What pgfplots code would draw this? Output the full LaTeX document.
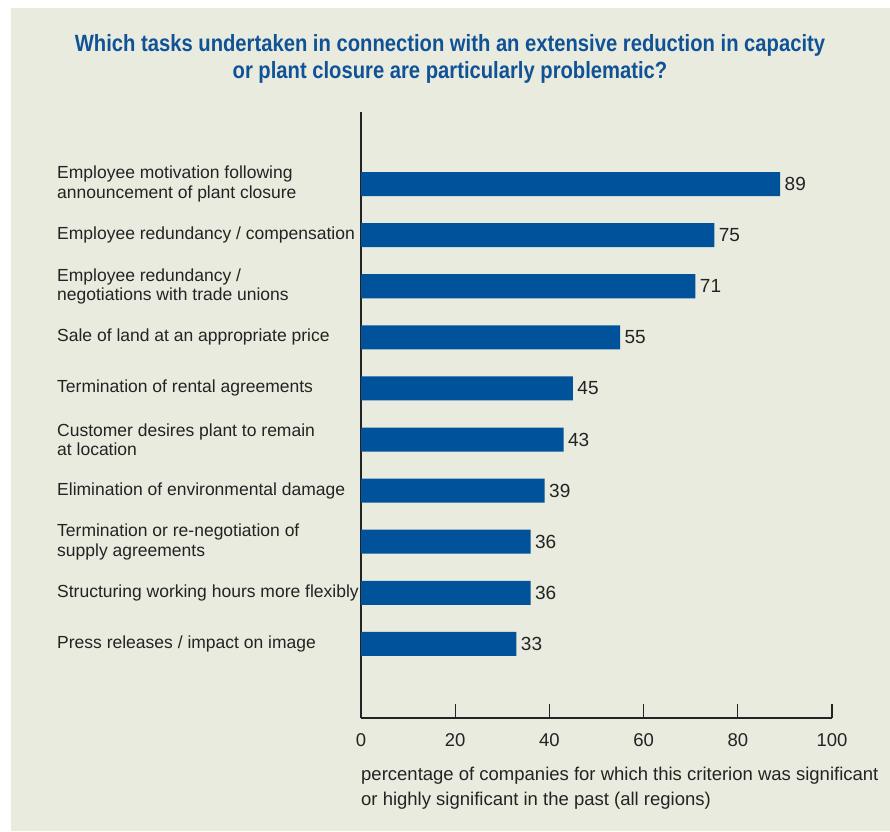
\documentclass[border=0pt]{standalone}
\usepackage{pgfplots}
\pgfplotsset{compat=1.18}
\usepackage{fontspec}
\setmainfont{Liberation Sans}
\newfontfamily\titlefont[FakeStretch=0.86]{Liberation Sans}
\definecolor{bg}{RGB}{234,235,223}
\definecolor{barblue}{RGB}{0,83,155}
\definecolor{titleblue}{RGB}{16,82,150}
\definecolor{txt}{RGB}{35,35,35}
\begin{document}
\begin{tikzpicture}[x=1pt,y=1pt]
\fill[white] (0,0) rectangle (890,-831);
\fill[bg] (11,-8) rectangle (890,-831);
\node[align=center, text=titleblue, font={\titlefont\bfseries\fontsize{23.5}{27}\selectfont}] at (450,-59) {Which tasks undertaken in connection with an extensive reduction in capacity\\or plant closure are particularly problematic?};
\begin{axis}[
  at={(361pt,-718pt)}, anchor=south west,
  scale only axis, width=471pt, height=606pt,
  xmin=0, xmax=100, ymin=-0.45, ymax=11.41,
  xbar, bar width=0.47,
  axis x line*=bottom, axis y line*=left,
  axis line style={draw=txt, line width=1.3pt},
  xtick={0,20,...,100},
  tick align=inside,
  major tick length=14pt,
  /pgf/number format/assume math mode=true,
  x tick style={draw=txt, line width=1.2pt},
  y tick style={draw=none},
  xticklabel style={font=\fontsize{18.5}{20}\selectfont, text=txt, yshift=-12pt},
  ytick={1,...,10},
  yticklabels={
    {Press releases / impact on image},
    {Structuring working hours more flexibly},
    {Termination or re-negotiation of\\supply agreements},
    {Elimination of environmental damage},
    {Customer desires plant to remain\\at location},
    {Termination of rental agreements},
    {Sale of land at an appropriate price},
    {Employee redundancy /\\negotiations with trade unions},
    {Employee redundancy / compensation},
    {Employee motivation following\\announcement of plant closure}},
  yticklabel style={anchor=west, xshift=-304pt, align=left, inner sep=0pt, text=txt, font=\fontsize{17.5}{19.5}\selectfont},
  nodes near coords,
  nodes near coords style={anchor=west, xshift=1pt, text=txt, font=\fontsize{19}{20}\selectfont},
  point meta=explicit symbolic,
  clip=false,
]
\addplot[fill=barblue, draw=none] coordinates {
  (33,1)[33] (36,2)[36] (36,3)[36] (39,4)[39] (43,5)[43]
  (45,6)[45] (55,7)[55] (71,8)[71] (75,9)[75] (89,10)[89]};
\end{axis}
\node[anchor=north west, align=left, inner sep=0pt, text=txt, font=\fontsize{18.5}{24.5}\selectfont] at (361,-767) {percentage of companies for which this criterion was significant\\or highly significant in the past (all regions)};
\end{tikzpicture}
\end{document}
